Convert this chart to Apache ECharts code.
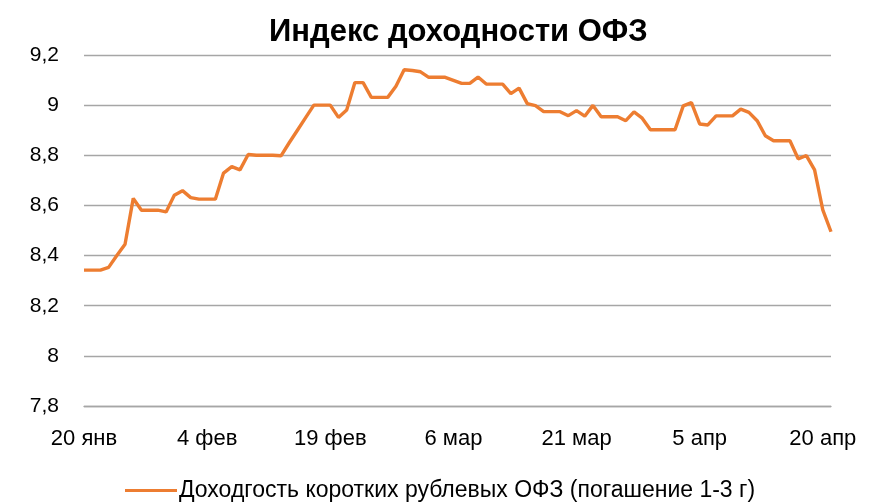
<!DOCTYPE html>
<html>
<head>
<meta charset="utf-8">
<script src="https://cdn.jsdelivr.net/npm/echarts@6/dist/echarts.min.js"></script>
<style>
html,body{margin:0;padding:0;background:#fff;}
#chart{width:872px;height:504px;}
</style>
</head>
<body>
<div id="chart"></div>
<script>
var title = 'Индекс доходности ОФЗ';
var seriesName = 'Доходгость коротких рублевых ОФЗ (погашение 1-3 г)';
var monthNames = ['янв','фев','мар','апр'];
var monthDays = [31, 28, 31, 30];
var startDay = 20;
var yMin = 7.8, yMax = 9.2, yStep = 0.2;

var yields = [
  8.342, 8.342, 8.342, 8.353, 8.400, 8.445, 8.628, 8.581, 8.581, 8.581,
  8.574, 8.641, 8.659, 8.631, 8.625, 8.625, 8.625, 8.729, 8.755, 8.742,
  8.803, 8.800, 8.800, 8.800, 8.798, 8.850, 8.900, 8.950, 9.000, 9.000,
  9.000, 8.951, 8.981, 9.090, 9.090, 9.031, 9.031, 9.031, 9.075, 9.141,
  9.138, 9.133, 9.111, 9.111, 9.111, 9.099, 9.087, 9.087, 9.112, 9.084,
  9.084, 9.084, 9.046, 9.068, 9.006, 8.998, 8.974, 8.974, 8.974, 8.958,
  8.978, 8.956, 8.999, 8.954, 8.954, 8.954, 8.938, 8.973, 8.948, 8.902,
  8.902, 8.902, 8.902, 8.997, 9.010, 8.925, 8.921, 8.957, 8.957, 8.957,
  8.984, 8.971, 8.938, 8.878, 8.858, 8.858, 8.858, 8.786, 8.799, 8.742,
  8.582, 8.495
];

// calendar day labels, one per data point
var categories = [];
(function(){
  var m = 0, d = startDay;
  for (var i = 0; i < yields.length; i++) {
    categories.push(d + ' ' + monthNames[m]);
    d++;
    if (d > monthDays[m]) { d = 1; m++; }
  }
})();

var font = '"Liberation Sans", Arial, sans-serif';
var chart = echarts.init(document.getElementById('chart'), null, {renderer:'canvas'});
chart.setOption({
  animation: false,
  backgroundColor: '#ffffff',
  title: {
    text: title,
    left: 264,
    top: 12,
    textStyle: {fontFamily: font, fontSize: 31, fontWeight: 'bold', color: '#000'}
  },
  grid: {left: 84, right: 41, top: 55, bottom: 98, containLabel: false},
  legend: {
    data: [{name: seriesName, icon: 'rect'}],
    top: 474,
    left: 120,
    itemWidth: 52,
    itemHeight: 3,
    textStyle: {fontFamily: font, fontSize: 23, color: '#000', padding: [0,0,0,-3]}
  },
  xAxis: {
    type: 'category',
    data: categories,
    boundaryGap: false,
    axisLine: {show: true, lineStyle: {color: '#a6a6a6', width: 1.3}},
    axisTick: {show: false},
    axisLabel: {interval: 14, margin: 22, fontFamily: font, fontSize: 22, color: '#000'},
    splitLine: {show: false}
  },
  yAxis: {
    type: 'value',
    min: yMin,
    max: yMax,
    interval: yStep,
    axisLine: {show: false},
    axisTick: {show: false},
    axisLabel: {
      margin: 25, fontFamily: font, fontSize: 21, color: '#000',
      formatter: function(v){ return String(Math.round(v*10)/10).replace('.', ','); }
    },
    splitLine: {show: true, lineStyle: {color: '#a6a6a6', width: 1.3}}
  },
  series: [{
    name: seriesName,
    type: 'line',
    data: yields,
    symbol: 'none',
    lineStyle: {color: '#ed7d31', width: 3.4},
    itemStyle: {color: '#ed7d31'}
  }]
});
</script>
</body>
</html>
